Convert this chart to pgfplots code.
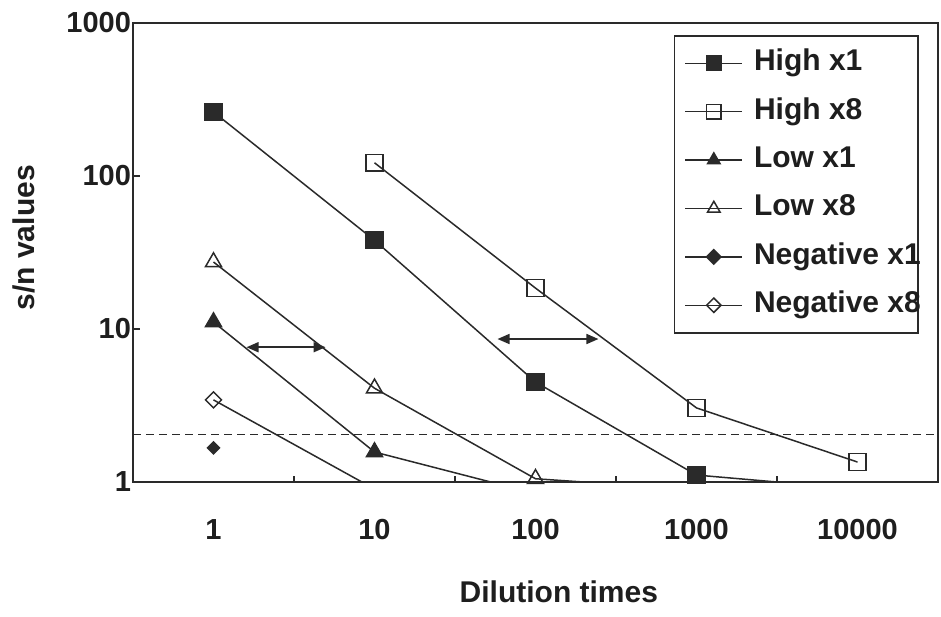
\documentclass[border=0pt]{standalone}
\usepackage{fontspec}
\setmainfont{Liberation Sans}
\usepackage{pgfplots}
\pgfplotsset{compat=1.18}
\usetikzlibrary{arrows.meta}
\definecolor{ink}{HTML}{1E1E1E}
\definecolor{ln}{HTML}{2A2A2A}
\begin{document}
\begin{tikzpicture}
\begin{axis}[
  scale only axis, width=402.5pt, height=229.5pt,
  xmin=-0.5, xmax=4.5, ymode=log, ymin=1, ymax=1000,
  axis line style={ln, line width=0.85pt},
  xtick={0,1,2,3,4}, xticklabels={1,10,100,1000,10000},
  minor xtick={0.5,1.5,2.5,3.5},
  major x tick style={draw=none},
  ytick={1,10,100,1000}, yticklabels={1,10,100,1000},
  yminorticks=false,
  tick align=inside, major tick length=3.5pt, minor tick length=3pt,
  tick style={ln, line width=0.85pt},
  xtick pos=bottom, ytick pos=left,
  xticklabel style={font=\fontsize{14.5}{17}\selectfont\bfseries, text=ink, yshift=-15pt},
  yticklabel style={font=\fontsize{14.5}{17}\selectfont\bfseries, text=ink, xshift=2.5pt},
  xlabel={Dilution times},
  xlabel style={at={(axis description cs:0.529,0)}, anchor=north, yshift=-46pt, font=\fontsize{15}{18}\selectfont\bfseries, text=ink},
  ylabel={s/n values},
  ylabel style={at={(axis description cs:-0.1354,0.532)}, anchor=center, font=\fontsize{15}{18}\selectfont\bfseries, text=ink},
  legend style={at={(axis description cs:0.976,0.974)}, anchor=north east,
    draw=ln, line width=0.85pt, fill=white,
    font=\fontsize{15}{18}\selectfont\bfseries, text=ink,
    inner xsep=5pt, inner ysep=6.5pt, row sep=9.7pt, column sep=5.5pt,
    nodes={inner sep=0pt, text height=11pt, text depth=3.5pt}},
  legend cell align=left,
  legend image code/.code={\draw[mark repeat=2,mark phase=2,#1,mark size=3.6pt] plot coordinates {(0pt,0pt) (14.25pt,0pt) (28.5pt,0pt)};},
]
\addplot[ln, line width=0.75pt, mark=square*, mark size=4.2pt, mark options={fill=ln, solid}]
  coordinates {(0,262) (1,38) (2,4.5) (3,1.11) (4,0.9)};
\addlegendentry{High x1}
\addplot[ln, line width=0.75pt, mark=square, mark size=4.2pt, mark options={fill=white, solid}]
  coordinates {(1,122) (2,18.5) (3,3.05) (4,1.35)};
\addlegendentry{High x8}
\addplot[ln, line width=0.75pt, mark=triangle*, mark size=4.6pt, mark options={fill=ln, solid}]
  coordinates {(0,11.1) (1,1.57) (2,0.84)};
\addlegendentry{Low x1}
\addplot[ln, line width=0.75pt, mark=triangle, mark size=4.6pt, mark options={fill=white, solid}]
  coordinates {(0,27.4) (1,4.1) (2,1.05) (3,0.89)};
\addlegendentry{Low x8}
\addplot[ln, line width=0.75pt, mark=diamond*, mark size=3pt, mark options={fill=ln, solid, xscale=1.33}]
  coordinates {(0,1.67)};
\addlegendentry{Negative x1\hspace*{-6.5pt}}
\addplot[ln, line width=0.75pt, mark=diamond, mark size=4pt, mark options={fill=white, solid, xscale=1.33}]
  coordinates {(0,3.44) (1,0.9)};
\addlegendentry{Negative x8\hspace*{-6.5pt}}
\addplot[ln, line width=0.7pt, dash pattern=on 4pt off 2.5pt, forget plot]
  coordinates {(-0.5,2.05) (4.5,2.05)};
\draw[ln, line width=0.8pt, {Triangle[length=6pt,width=5pt]}-{Triangle[length=6pt,width=5pt]}]
  (axis cs:0.205,7.6) -- (axis cs:0.696,7.6);
\draw[ln, line width=0.8pt, {Triangle[length=6pt,width=5pt]}-{Triangle[length=6pt,width=5pt]}]
  (axis cs:1.764,8.6) -- (axis cs:2.391,8.6);
\coordinate (bl) at (rel axis cs:0,0);
\coordinate (tr) at (rel axis cs:1,1);
\end{axis}
\path (bl) ++(-66.5pt,-67.5pt) (tr) ++(1.5pt,11.5pt);
\end{tikzpicture}
\end{document}
